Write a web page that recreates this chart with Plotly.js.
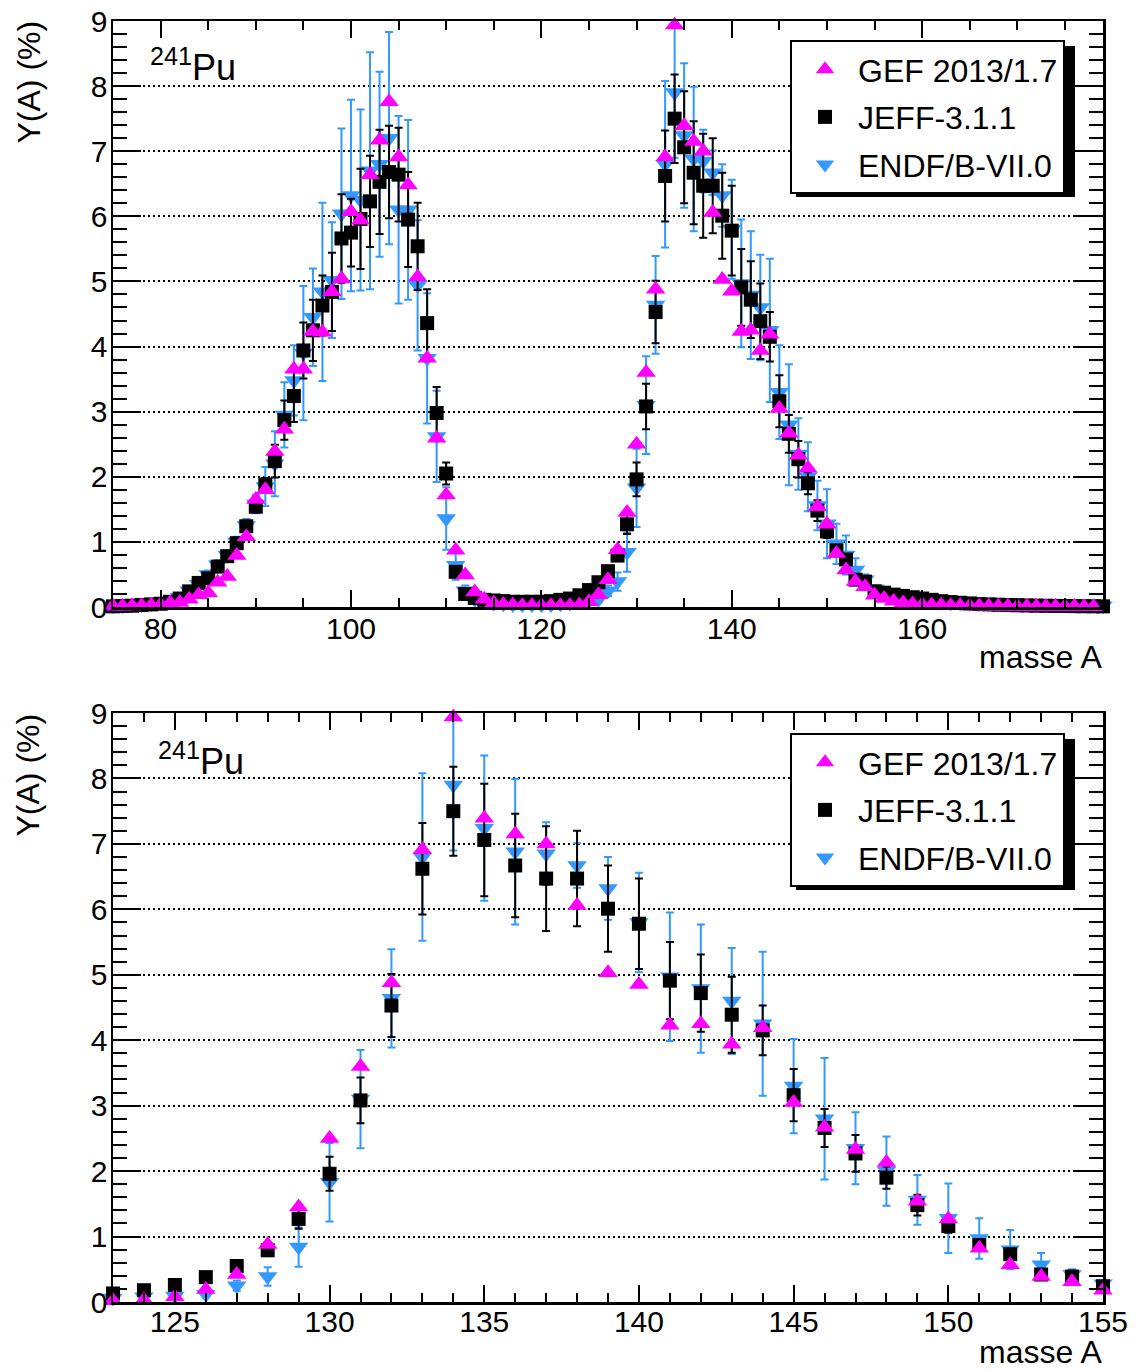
<!DOCTYPE html>
<html>
<head>
<meta charset="utf-8">
<script src="https://cdn.plot.ly/plotly-3.0.1.min.js"></script>
<style>html,body{margin:0;padding:0;background:#fff;}#chart{width:1138px;height:1370px;}</style>
</head>
<body>
<div id="chart"></div>
<script>
// Mass number A
var massA = [75,76,77,78,79,80,81,82,83,84,85,86,87,88,89,90,91,92,93,94,95,96,97,98,99,
  100,101,102,103,104,105,106,107,108,109,110,111,112,113,114,115,116,117,118,119,
  120,121,122,123,124,125,126,127,128,129,130,131,132,133,134,135,136,137,138,139,
  140,141,142,143,144,145,146,147,148,149,150,151,152,153,154,155,156,157,158,159,
  160,161,162,163,164,165,166,167,168,169,170,171,172,173,174,175,176,177,178,179];

// GEF 2013/1.7 yields (%)
var gefY = [0.01,0.01,0.015,0.02,0.025,0.035,0.06,0.07,0.12,0.19,0.22,0.38,0.47,0.79,1.08,1.65,1.8,2.39,2.73,3.65,3.65,4.23,4.22,4.84,5.04,
  6.07,5.94,6.64,7.17,7.76,6.91,6.48,5.07,3.82,2.59,1.72,0.87,0.49,0.23,0.12,0.06,0.04,0.03,0.02,0.02,
  0.02,0.02,0.02,0.02,0.03,0.08,0.19,0.42,0.88,1.45,2.5,3.6,4.88,6.91,8.94,7.39,7.15,7.0,6.06,5.03,
  4.85,4.23,4.25,3.94,4.19,3.05,2.67,2.33,2.13,1.54,1.27,0.82,0.57,0.39,0.31,0.18,0.13,0.09,0.06,0.045,
  0.035,0.03,0.025,0.02,0.018,0.016,0.014,0.012,0.011,0.01,0.009,0.008,0.008,0.007,0.007,0.006,0.006,0.005,0.005,null];

// JEFF-3.1.1 yields (%) and uncertainties
var jeffY = [0.01,0.015,0.02,0.03,0.04,0.05,0.08,0.13,0.24,0.37,0.44,0.62,0.78,0.98,1.24,1.54,1.88,2.24,2.87,3.24,3.94,4.25,4.63,4.84,5.66,
  5.75,5.96,6.23,6.53,6.68,6.64,5.95,5.54,4.36,2.98,2.05,0.54,0.2,0.14,0.11,0.1,0.09,0.08,0.08,0.08,
  0.08,0.09,0.11,0.13,0.18,0.26,0.38,0.55,0.79,1.27,1.96,3.08,4.53,6.62,7.5,7.06,6.67,6.47,6.47,6.01,
  5.78,4.91,4.72,4.39,4.15,3.16,2.66,2.27,1.9,1.48,1.16,0.87,0.73,0.42,0.39,0.24,0.22,0.19,0.17,0.15,
  0.13,0.11,0.09,0.075,0.065,0.055,0.045,0.04,0.035,0.03,0.027,0.024,0.021,0.019,0.017,0.015,0.013,0.012,0.011,0.01];
var jeffErr = [0.002,0.002,0.003,0.004,0.005,0.006,0.01,0.015,0.02,0.03,0.035,0.04,0.05,0.05,0.06,0.08,0.1,0.25,0.3,0.4,0.43,0.47,0.46,0.6,0.68,
  0.52,0.77,0.7,0.8,0.71,0.72,0.73,0.67,0.52,0.4,0.17,0.08,0.04,0.02,0.02,0.02,0.02,0.02,0.02,0.02,
  0.02,0.02,0.02,0.02,0.03,0.03,0.04,0.05,0.08,0.15,0.26,0.35,0.48,0.7,0.68,0.86,0.79,0.8,0.73,0.66,
  0.69,0.59,0.59,0.58,0.38,0.4,0.29,0.28,0.17,0.16,0.1,0.08,0.06,0.04,0.04,0.03,0.02,0.02,0.02,0.02,
  0.015,0.01,0.01,0.008,0.007,0.006,0.005,0.005,0.004,0.004,0.003,0.003,0.003,0.002,0.002,0.002,0.002,0.002,0.002,0.002];

// ENDF/B-VII.0 yields (%) and uncertainties
var endfY = [0.02,0.02,0.03,0.04,0.05,0.07,0.1,0.15,0.25,0.35,0.5,0.65,0.8,1.0,1.25,1.58,1.85,2.2,2.95,3.48,3.9,4.45,4.84,5.02,6.04,
  6.32,6.25,6.7,6.8,7.2,6.1,6.1,4.94,3.82,2.62,1.36,0.64,0.25,0.12,0.08,0.06,0.05,0.04,0.04,0.04,
  0.04,0.04,0.05,0.06,0.08,0.09,0.12,0.25,0.39,0.84,1.83,3.1,4.64,6.8,7.9,7.24,6.88,6.85,6.67,6.32,
  5.8,4.97,4.79,4.6,4.25,3.3,2.8,2.35,2.0,1.56,1.28,0.97,0.8,0.57,0.42,0.28,0.2,0.16,0.13,0.11,
  0.09,0.08,0.07,0.065,0.06,0.055,0.05,0.05,0.045,0.045,0.04,0.04,0.035,0.035,0.03,0.03,0.03,0.025,0.025,0.02];
var endfErr = [0.005,0.005,0.008,0.01,0.01,0.015,0.02,0.03,0.04,0.05,0.06,0.07,0.07,0.08,0.1,0.14,0.3,0.5,0.5,0.54,1.03,0.75,1.37,0.89,1.31,
  1.47,1.39,1.82,1.42,1.63,1.44,1.38,1.0,1.0,0.7,0.48,0.22,0.08,0.03,0.03,0.03,0.03,0.03,0.03,0.03,
  0.03,0.03,0.03,0.03,0.03,0.04,0.05,0.08,0.14,0.3,0.6,0.75,0.75,1.28,1.0,1.11,1.11,0.48,0.34,0.48,
  0.76,0.98,0.98,0.81,1.1,0.72,0.93,0.55,0.53,0.38,0.53,0.31,0.3,0.18,0.08,0.05,0.03,0.03,0.03,0.02,
  0.02,0.02,0.02,0.015,0.015,0.01,0.01,0.01,0.01,0.01,0.01,0.01,0.01,0.01,0.01,0.01,0.01,0.01,0.01,0.01];

var seriesNames = ['GEF 2013/1.7', 'JEFF-3.1.1', 'ENDF/B-VII.0'];
var zoomRange = [123, 155];

var FONT = 'Liberation Sans, Arial, Helvetica, sans-serif';
var cMag = '#ff00ff', cBlk = '#000000', cBlu = '#3399ff';

function sub(arr, lo, hi) {
  var out = [];
  for (var i = 0; i < massA.length; i++) if (massA[i] >= lo && massA[i] <= hi) out.push(arr[i]);
  return out;
}

function makeTraces(xs, g, j, je, e, ee, xa, ya, leg) {
  return [
    {x: xs, y: e, type: 'scatter', mode: 'markers', name: seriesNames[2], legend: leg, legendgroup: 'c' + leg, legendrank: 3,
     xaxis: xa, yaxis: ya, cliponaxis: false,
     marker: {symbol: 'triangle-down', size: 17, color: cBlu},
     error_y: {type: 'data', array: ee, visible: true, color: cBlu, thickness: 2, width: 4}},
    {x: xs, y: j, type: 'scatter', mode: 'markers', name: seriesNames[1], legend: leg, legendgroup: 'b' + leg, legendrank: 2,
     xaxis: xa, yaxis: ya, cliponaxis: false,
     marker: {symbol: 'square', size: 14, color: cBlk},
     error_y: {type: 'data', array: je, visible: true, color: cBlk, thickness: 2, width: 4}},
    {x: xs, y: g, type: 'scatter', mode: 'markers', name: seriesNames[0], legend: leg, legendgroup: 'a' + leg, legendrank: 1,
     xaxis: xa, yaxis: ya, cliponaxis: false,
     marker: {symbol: 'triangle-up', size: 17, color: cMag}}
  ];
}

var lo = zoomRange[0], hi = zoomRange[1];
var traces = makeTraces(massA, gefY, jeffY, jeffErr, endfY, endfErr, 'x', 'y', 'legend')
  .concat(makeTraces(sub(massA, lo, hi), sub(gefY, lo, hi), sub(jeffY, lo, hi), sub(jeffErr, lo, hi),
                     sub(endfY, lo, hi), sub(endfErr, lo, hi), 'x2', 'y2', 'legend2'));

// pixel -> paper helpers
var ML = 113, MR = 35, MT = 21, MB = 68, W = 1138, H = 1370;
var PW = W - ML - MR, PH = H - MT - MB;
function px(v) { return (v - ML) / PW; }
function py(v) { return (H - MB - v) / PH; }

function xax(range, dtick, mdt, anchor, standoff) {
  return {range: range, anchor: anchor, tick0: 0, dtick: dtick, ticks: 'inside', ticklen: 17, tickwidth: 2,
    tickcolor: '#000', showline: true, linewidth: 2.5, linecolor: '#000', mirror: 'ticks',
    showgrid: false, zeroline: false, ticklabelstandoff: standoff, tickfont: {family: FONT, size: 30, color: '#000'},
    minor: {dtick: mdt, tick0: 0, ticks: 'inside', ticklen: 9, tickwidth: 2, tickcolor: '#000', showgrid: false}};
}
function yax(domain, anchor) {
  return {range: [0, 9], domain: domain, anchor: anchor, dtick: 1, ticks: 'inside', ticklen: 28, tickwidth: 2,
    tickcolor: '#000', showline: true, linewidth: 2.5, linecolor: '#000', mirror: 'ticks',
    showgrid: true, gridcolor: '#000', gridwidth: 2, griddash: '2px,3px', zeroline: false,
    ticklabelstandoff: -3, tickfont: {family: FONT, size: 30, color: '#000'},
    minor: {dtick: 0.2, ticks: 'inside', ticklen: 14, tickwidth: 2, tickcolor: '#000', showgrid: false}};
}

var topDom = [py(607), 1], botDom = [0, py(713)];

function legendCfg(topPx) {
  return {x: px(790), y: py(topPx), xanchor: 'left', yanchor: 'top', bgcolor: '#fff',
    bordercolor: '#000', borderwidth: 2, traceorder: 'grouped', tracegroupgap: 3,
    itemwidth: 56, font: {family: FONT, size: 32, color: '#000'}};
}

var layout = {
  width: W, height: H, margin: {l: ML, r: MR, t: MT, b: MB},
  paper_bgcolor: '#fff', plot_bgcolor: '#fff', showlegend: true,
  xaxis: xax([75, 179], 20, 5, 'y', -7),
  yaxis: yax(topDom, 'x'),
  xaxis2: xax(zoomRange, 5, 1, 'y2', -9),
  yaxis2: yax(botDom, 'x2'),
  legend: legendCfg(40),
  legend2: legendCfg(733),
  shapes: [
    {type: 'rect', xref: 'paper', yref: 'paper', x0: px(796), x1: px(1075), y0: py(46), y1: py(197),
     fillcolor: '#000', line: {width: 0}, layer: 'above'},
    {type: 'rect', xref: 'paper', yref: 'paper', x0: px(796), x1: px(1075), y0: py(739), y1: py(890),
     fillcolor: '#000', line: {width: 0}, layer: 'above'}
  ],
  annotations: [
    {text: '<sup>241</sup>Pu', xref: 'paper', yref: 'paper', x: px(148), y: py(65), xanchor: 'left', yanchor: 'middle',
     showarrow: false, font: {family: FONT, size: 36, color: '#000'}},
    {text: '<sup>241</sup>Pu', xref: 'paper', yref: 'paper', x: px(156), y: py(759), xanchor: 'left', yanchor: 'middle',
     showarrow: false, font: {family: FONT, size: 36, color: '#000'}},
    {text: 'masse A', xref: 'paper', yref: 'paper', x: px(1104), y: py(657), xanchor: 'right', yanchor: 'middle',
     showarrow: false, font: {family: FONT, size: 32, color: '#000'}},
    {text: 'masse A', xref: 'paper', yref: 'paper', x: px(1104), y: py(1352), xanchor: 'right', yanchor: 'middle',
     showarrow: false, font: {family: FONT, size: 32, color: '#000'}},
    {text: 'Y(A) (%)', xref: 'paper', yref: 'paper', x: px(28), y: py(19), xanchor: 'center', yanchor: 'top',
     textangle: -90, showarrow: false, font: {family: FONT, size: 32, color: '#000'}},
    {text: 'Y(A) (%)', xref: 'paper', yref: 'paper', x: px(28), y: py(712), xanchor: 'center', yanchor: 'top',
     textangle: -90, showarrow: false, font: {family: FONT, size: 32, color: '#000'}}
  ]
};

Plotly.newPlot('chart', traces, layout, {displayModeBar: false, staticPlot: true});
</script>
</body>
</html>
